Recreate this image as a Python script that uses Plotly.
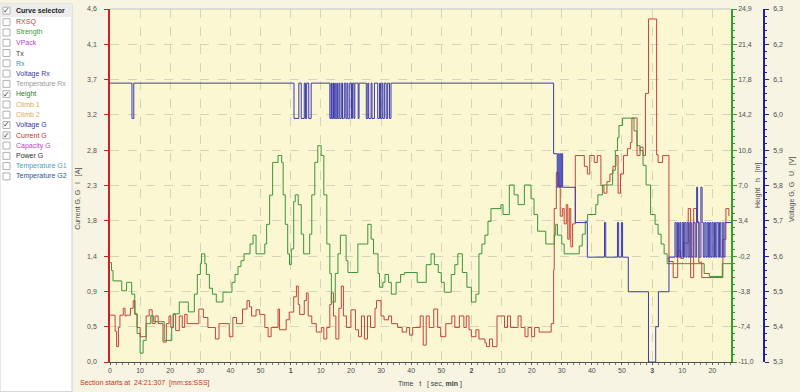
import plotly.graph_objects as go

# ---------------- data ----------------
cur_t = [0, 1.7, 2.2, 2.8, 3.3, 4.4, 5.0, 5.5, 6.8, 7.7, 8.3, 9.0, 10.0, 12.0, 13.0, 14.0, 15.0, 16.0, 17.6, 18.7,
         19.6, 20.2, 21.0, 21.8, 23.0, 24.0, 24.8, 25.6, 29.5, 31.0, 32.5, 35.0, 36.2, 39.6, 40.8, 42.0, 44.0, 45.5,
         46.3, 47.0, 48.5, 49.7, 51.4, 52.5, 53.5, 55.8, 56.3, 58.5, 59.5, 61.0, 61.9, 62.5, 63.0, 64.5, 65.2, 65.8,
         67.0, 68.5, 70.2, 71.0, 72.0, 73.0, 73.5, 74.2, 75.0, 76.0, 76.8, 77.5, 78.5, 80.0, 81.5, 82.5, 83.5, 84.5,
         85.5, 86.5, 88.0, 88.5, 90.0, 91.0, 92.5, 93.5, 95.5, 97.0, 98.5, 99.5, 100.5, 103.0, 104.0, 105.0, 106.0,
         107.5, 108.8, 109.8, 111.5, 113.5, 114.5, 116.0, 117.5, 118.3, 119.2, 120.0, 121.5, 122.5, 124.5, 125.0,
         126.0, 127.0, 128.5, 131.0, 132.0, 133.0, 135.5, 136.5, 137.8, 138.8, 140.0, 141.0, 142.5, 146.5, 147.3,
         147.5, 148.2, 149.0, 149.5, 150.3, 150.8, 151.5, 152.0, 152.5, 153.0, 153.6, 154.5, 157.5, 158.5, 159.3,
         160.8, 161.8, 163.0, 164.0, 165.0, 166.0, 167.0, 168.0, 168.7, 169.5, 170.5, 171.8, 172.8, 173.3, 175.0,
         176.0, 177.0, 177.8, 178.8, 181.5, 182.0, 183.5, 185.6, 187.0, 188.5, 189.5, 190.5, 192.0, 192.8, 193.8,
         194.8, 195.5, 196.5, 203.5, 204.5, 205.5]
cur_v = [0.61, 0.4, 0.2, 0.45, 0.61, 0.7, 0.6, 0.61, 0.7, 0.8, 0.62, 0.45, 0.33, 0.6, 0.68, 0.5, 0.6, 0.5, 0.26, 0.5,
         0.6, 0.45, 0.62, 0.41, 0.6, 0.45, 0.62, 0.5, 0.69, 0.58, 0.45, 0.3, 0.5, 0.33, 0.58, 0.5, 0.69, 0.8,
         0.72, 0.6, 0.68, 0.62, 0.45, 0.33, 0.45, 0.69, 0.42, 0.55, 0.65, 0.85, 0.99, 0.75, 0.62, 0.8, 0.9, 0.6,
         0.5, 0.39, 0.45, 0.3, 0.45, 0.75, 0.9, 0.6, 0.3, 0.7, 0.99, 0.6, 0.45, 0.68, 0.42, 0.33, 0.6, 0.3,
         0.6, 0.45, 0.7, 0.8, 0.6, 0.55, 0.6, 0.5, 0.45, 0.39, 0.45, 0.35, 0.45, 0.6, 0.22, 0.6, 0.45,
         0.69, 0.45, 0.33, 0.5, 0.6, 0.45, 0.6, 0.45, 0.6, 0.42, 0.33, 0.42, 0.3, 0.25, 0.2,
         0.3, 0.2, 0.6, 0.45, 0.6, 0.45, 0.6, 0.45, 0.33, 0.45, 0.33, 0.45, 0.39, 0.5, 1.2,
         2.0, 2.47, 2.3, 1.9, 2.0, 1.8, 2.05, 1.6, 2.0, 1.5, 1.8, 2.69, 2.55, 2.45, 2.69,
         2.6, 2.69, 2.3, 2.2, 2.35, 2.45, 2.55, 2.69, 2.2, 2.45, 2.69, 2.78, 2.86, 3.18, 2.69,
         2.8, 2.69, 3.5, 4.47, 2.7, 2.6, 2.69, 1.31, 1.1, 1.45, 1.35, 1.55, 2.0, 1.1, 2.0,
         1.83, 1.3, 1.1, 1.6, 2.0, 1.9]

hgt_t = [0, 0.5, 1.0, 3.9, 5.5, 7.2, 8.2, 9.0, 10.0, 11.0, 12.0, 13.5, 14.5, 18.0, 20.5, 21.0, 23.0, 26.0, 28.0,
         29.0, 30.0, 30.4, 31.5, 32.0, 33.0, 34.0, 35.3, 37.5, 40.5, 41.5, 42.5, 43.5, 44.5, 46.5, 47.5, 48.5,
         51.4, 52.0, 53.0, 54.0, 55.8, 57.0, 57.5, 58.2, 59.0, 59.6, 60.2, 61.0, 61.5, 62.5, 63.5, 64.3, 66.3,
         67.0, 68.0, 69.0, 70.1, 71.0, 72.0, 73.0, 73.5, 74.8, 75.7, 76.5, 78.4, 79.0, 82.3, 85.6, 86.7, 87.5,
         89.0, 89.5, 90.6, 91.3, 92.5, 93.4, 95.0, 96.5, 97.8, 102.0, 105.0, 106.6, 107.7, 109.0, 110.0, 111.0,
         113.3, 114.5, 115.5, 117.0, 118.5, 120.0, 121.5, 122.5, 123.5, 124.5, 125.5, 126.5, 129.8, 130.5, 132.6,
         134.2, 135.5, 137.6, 139.8, 140.8, 142.0, 144.7, 147.5, 148.0, 148.6, 150.0, 150.8, 155.8, 156.8, 157.8,
         158.6, 161.3, 162.0, 163.5, 166.9, 167.8, 168.5, 169.0, 170.2, 174.0, 175.0, 176.0, 177.0, 178.0, 179.5,
         181.0, 182.0, 183.0, 184.0, 185.0, 197.3, 199.0, 203.3, 206.2]
hgt_v = [-0.9, -1.7, -2.75, -3.76, -2.9, -4.1, -6.1, -8.1, -10.1, -8.8, -7.1, -6.3, -6.9, -8.8, -7.5, -6.1, -4.9, -5.9, -4.1,
         -2.1, -1.0, 0.0, -1.0, -2.1, -3.5, -4.1, -4.9, -3.9, -2.9, -2.1, -1.3, -0.7, 0.0, 1.0, 1.9, 0.0,
         1.0, 3.0, 5.97, 9.3, 10.0, 9.3, 6.0, 3.0, 0.0, -1.1, 0.5, 5.3, 6.0, 5.0, 2.0, 0.0, 2.0,
         6.0, 9.3, 11.0, 10.0, 6.0, 1.0, -2.0, -4.9, -2.0, 0.0, 1.9, -0.7, -1.9, 1.0, 3.0, 1.5, 0.0,
         -2.0, -3.4, -2.9, -2.1, -2.9, -4.1, -2.9, -2.1, -1.9, -2.9, -1.1, 0.0, -1.1, -1.9, -2.9, -3.9,
         -2.1, -1.1, 0.0, -1.9, -3.4, -4.9, -4.1, 0.0, 1.0, 1.9, 3.3, 4.6, 5.0, 4.0, 7.0,
         6.0, 5.0, 7.0, 5.6, 4.0, 2.3, 1.0, 1.9, 3.0, 1.9, 1.0, 0.0, 0.8, 2.0, 3.3,
         4.0, 5.0, 6.0, 7.0, 8.5, 10.5, 11.8, 13.05, 13.8, 12.5, 11.0, 10.5, 9.0, 7.0, 4.0,
         3.0, 2.0, 1.0, 0.0, -1.0, -2.0, -2.3, -1.0, -1.0]

volt_t = [0, 7.3, 7.9, 61.1, 62.7, 63.5, 64.5, 64.9, 65.3, 66.0, 66.8,
          73.0, 73.4, 73.6, 74.0, 74.2, 74.6, 74.8, 75.3, 75.5, 76.0, 76.3, 76.8, 77.2, 77.8, 78.3, 78.7,
          79.0, 79.6, 80.2, 80.5, 81.0, 81.3, 82.4, 82.7, 85.1, 85.6, 85.9, 86.7, 87.0, 87.8, 88.9, 89.5,
          89.8, 90.3, 90.6, 91.1, 91.7, 92.2, 92.8, 93.3,
          147.3, 148.5, 148.8, 149.1, 149.4, 149.7, 150.0, 150.3, 154.5, 158.5, 164.2, 164.6, 168.5, 168.9,
          169.8, 170.2, 172.1, 178.8, 181.2, 182.1, 185.6, 187.6,
          188.0, 188.4, 188.8, 189.2, 189.5, 190.0, 190.4, 190.7, 191.2, 191.6, 192.0, 192.5, 193.0, 193.6,
          194.3, 194.8, 195.1, 195.6, 196.2, 196.6, 197.0, 197.5, 197.9, 198.3, 198.7, 199.1, 199.5, 199.9,
          200.3, 200.7, 201.1, 201.5, 202.0, 202.4, 202.8, 203.3, 203.8, 204.2, 206.2]
volt_v = [6.09, 5.99, 6.09, 5.99, 6.09, 5.99, 6.09, 5.99, 6.09, 5.99, 6.09,
          5.99, 6.09, 5.99, 6.09, 5.99, 6.09, 5.99, 6.09, 5.99, 6.09, 5.99, 6.09, 5.99, 6.09, 5.99, 6.09,
          5.99, 6.09, 5.99, 6.09, 5.99, 6.09, 5.99, 6.09, 5.99, 6.09, 5.99, 6.09, 5.99, 6.09, 5.99, 6.09,
          5.99, 6.09, 5.99, 6.09, 5.99, 6.09, 5.99, 6.09,
          5.89, 5.795, 5.89, 5.795, 5.89, 5.795, 5.89, 5.795, 5.695, 5.597, 5.695, 5.597, 5.695, 5.597,
          5.695, 5.597, 5.499, 5.30, 5.40, 5.499, 5.597, 5.695,
          5.597, 5.695, 5.597, 5.695, 5.597, 5.695, 5.597, 5.695, 5.597, 5.695, 5.597, 5.695, 5.597, 5.695,
          5.597, 5.795, 5.695, 5.597, 5.795, 5.695, 5.597, 5.695, 5.597, 5.695, 5.597, 5.695, 5.597, 5.695,
          5.597, 5.695, 5.597, 5.695, 5.597, 5.695, 5.597, 5.695, 5.597, 5.695, 5.695]

x_ticks = list(range(0, 201, 10))
x_labels = ["0", "10", "20", "30", "40", "50", "<b>1</b>", "10", "20", "30", "40", "50", "<b>2</b>",
            "10", "20", "30", "40", "50", "<b>3</b>", "10", "20"]
cur_ticks = [0.0, 0.46, 0.92, 1.38, 1.84, 2.3, 2.76, 3.22, 3.68, 4.14, 4.6]
cur_labels = ["0,0", "0,5", "0,9", "1,4", "1,8", "2,3", "2,8", "3,2", "3,7", "4,1", "4,6"]
hgt_ticks = [-11.0, -7.41, -3.82, -0.23, 3.36, 6.95, 10.54, 14.13, 17.72, 21.31, 24.9]
hgt_labels = ["-11,0", "-7,4", "-3,8", "-0,2", "3,4", "7,0", "10,6", "14,2", "17,8", "21,4", "24,9"]
volt_ticks = [5.3, 5.4, 5.5, 5.6, 5.7, 5.8, 5.9, 6.0, 6.1, 6.2, 6.3]
volt_labels = ["5,3", "5,4", "5,5", "5,6", "5,7", "5,8", "5,9", "6,0", "6,1", "6,2", "6,3"]

selector_items = ["RXSQ", "Strength", "VPack", "Tx", "Rx", "Voltage Rx", "Temperature Rx", "Height",
                  "Climb 1", "Climb 2", "Voltage G", "Current G", "Capacity G", "Power G",
                  "Temperature G1", "Temperature G2"]
selector_colors = ["#c84040", "#3a9a3a", "#c040c8", "#404040", "#2a9aa0", "#3a3aa8", "#9a9a9a", "#2a7a2a",
                   "#e0a850", "#e0a850", "#3434a8", "#c03030", "#c040c8", "#303030", "#4aa0c0", "#3050a0"]
selector_checked = [False, False, False, False, False, False, False, True,
                    False, False, True, True, False, False, False, False]

# ---------------- figure ----------------
W, H = 800, 392
ML, MR, MT, MB = 110, 36, 5, 30
PW, PH = W - ML - MR, H - MT - MB
XDOM = (731 - ML) / PW

def px(xp):
    return (xp - ML) / PW

def py(yp):
    return (H - MB - yp) / PH

RED, GREEN, BLUE = "#c4443a", "#3a963a", "#3a3ab4"
FONT = "Liberation Sans, Arial, sans-serif"

fig = go.Figure()
fig.add_trace(go.Scatter(x=hgt_t, y=hgt_v, yaxis="y2", mode="lines", line=dict(color=GREEN, width=1, shape="hv"),
                         showlegend=False, hoverinfo="skip"))
fig.add_trace(go.Scatter(x=cur_t, y=cur_v, yaxis="y", mode="lines", line=dict(color=RED, width=1, shape="hv"),
                         showlegend=False, hoverinfo="skip"))
fig.add_trace(go.Scatter(x=volt_t, y=volt_v, yaxis="y3", mode="lines", line=dict(color=BLUE, width=1, shape="hv"),
                         showlegend=False, hoverinfo="skip"))

shapes = []
shapes.append(dict(type="rect", xref="x domain", yref="y domain", x0=0, x1=1, y0=0, y1=1,
                   fillcolor="#FBF7D2", line=dict(width=0), layer="below"))
shapes.append(dict(type="line", xref="x domain", yref="y domain", x0=0, x1=1, y0=1, y1=1,
                   line=dict(color="#C4C4C4", width=1)))
shapes.append(dict(type="rect", xref="paper", yref="paper", x0=px(0), x1=px(72), y0=py(392), y1=py(0),
                   fillcolor="#FFFFFF", line=dict(color="#D0D0D0", width=1), layer="below"))
shapes.append(dict(type="rect", xref="paper", yref="paper", x0=px(0), x1=px(72), y0=py(13), y1=py(0),
                   fillcolor="#EDEDED", line=dict(width=0), layer="below"))

annotations = []
rows_y = [6.7] + [18.3 + i * 10.4 for i in range(len(selector_items))]
labels = ["<b>Curve selector</b>"] + selector_items
colors = ["#202020"] + selector_colors
checked = [True] + selector_checked
for yy, lab, col, chk in zip(rows_y, labels, colors, checked):
    shapes.append(dict(type="rect", xref="paper", yref="paper", x0=px(3), x1=px(10), y0=py(yy + 3.5), y1=py(yy - 3.5),
                       fillcolor="#FFFFFF", line=dict(color="#B0B0B0", width=1)))
    if chk:
        annotations.append(dict(x=px(6.5), y=py(yy), xref="paper", yref="paper", text="✓", showarrow=False,
                                font=dict(size=8, color="#404040", family="DejaVu Sans"), xanchor="center", yanchor="middle"))
    annotations.append(dict(x=px(14), y=py(yy), xref="paper", yref="paper", text=lab, showarrow=False,
                            font=dict(size=7, color=col, family=FONT), xanchor="left", yanchor="middle"))

annotations.append(dict(x=px(78), y=py(197), xref="paper", yref="paper", text="Current G, G   I   [A]",
                        textangle=-90, showarrow=False, xanchor="center", yanchor="middle",
                        font=dict(size=7, color="#505050", family=FONT)))
annotations.append(dict(x=px(758), y=py(183), xref="paper", yref="paper", text="Height   h   [m]",
                        textangle=-90, showarrow=False, xanchor="center", yanchor="middle",
                        font=dict(size=7, color="#505050", family=FONT)))
annotations.append(dict(x=px(792), y=py(188), xref="paper", yref="paper", text="Voltage G, G   U   [V]",
                        textangle=-90, showarrow=False, xanchor="center", yanchor="middle",
                        font=dict(size=7, color="#505050", family=FONT)))
annotations.append(dict(x=px(430), y=py(384), xref="paper", yref="paper", text="Time   t   [ sec, <b>min</b> ]",
                        showarrow=False, xanchor="center", yanchor="middle",
                        font=dict(size=7, color="#404040", family=FONT)))
annotations.append(dict(x=px(78), y=py(383), xref="paper", yref="paper",
                        text="Section starts at  24:21:307  [mm:ss:SSS]", xanchor="left", yanchor="middle",
                        showarrow=False, font=dict(size=7, color="#b83a20", family=FONT)))

grid = dict(showgrid=True, gridcolor="#D6D2BC", griddash="dash", gridwidth=1)
tickf = dict(size=7, color="#505050", family=FONT)

fig.update_layout(
    width=W, height=H, autosize=False,
    margin=dict(l=ML, r=MR, t=MT, b=MB),
    paper_bgcolor="#F7F4E3", plot_bgcolor="#F7F4E3",
    shapes=shapes, annotations=annotations,
    xaxis=dict(domain=[0, XDOM], range=[0, 206.2], tickvals=x_ticks, ticktext=x_labels, tickfont=tickf,
               ticks="outside", ticklen=2, tickcolor="#606060", showline=True, linecolor="#505050",
               zeroline=False, minor=dict(dtick=2, ticks="outside", ticklen=2, tickcolor="#808080", showgrid=False),
               **grid),
    yaxis=dict(range=[0, 4.6], tickvals=cur_ticks, ticktext=cur_labels, tickfont=tickf, ticks="outside",
               ticklen=4, tickcolor="#d02020", showline=True, linecolor="#d02020", linewidth=1.5,
               ticklabelstandoff=6, zeroline=False, **grid),
    yaxis2=dict(range=[-11, 24.9], tickvals=hgt_ticks, ticktext=hgt_labels, tickfont=tickf, overlaying="y",
                side="right", anchor="x", ticks="outside", ticklen=4, tickcolor="#30a030", showline=True,
                linecolor="#30a030", linewidth=1.5, showgrid=False, zeroline=False,
                minor=dict(tickvals=[-11 + 0.718 * i for i in range(51)], ticks="outside", ticklen=2, tickcolor="#30a030")),
    yaxis3=dict(range=[5.3, 6.3], tickvals=volt_ticks, ticktext=volt_labels, tickfont=tickf, overlaying="y",
                side="right", anchor="free", position=1.0, ticks="outside", ticklen=4, tickcolor="#2020a0",
                showline=True, linecolor="#2020a0", linewidth=1.5, showgrid=False, zeroline=False,
                ticklabelstandoff=3,
                minor=dict(dtick=0.02, ticks="outside", ticklen=2, tickcolor="#2020a0")),
)

fig.write_html("out.html")
